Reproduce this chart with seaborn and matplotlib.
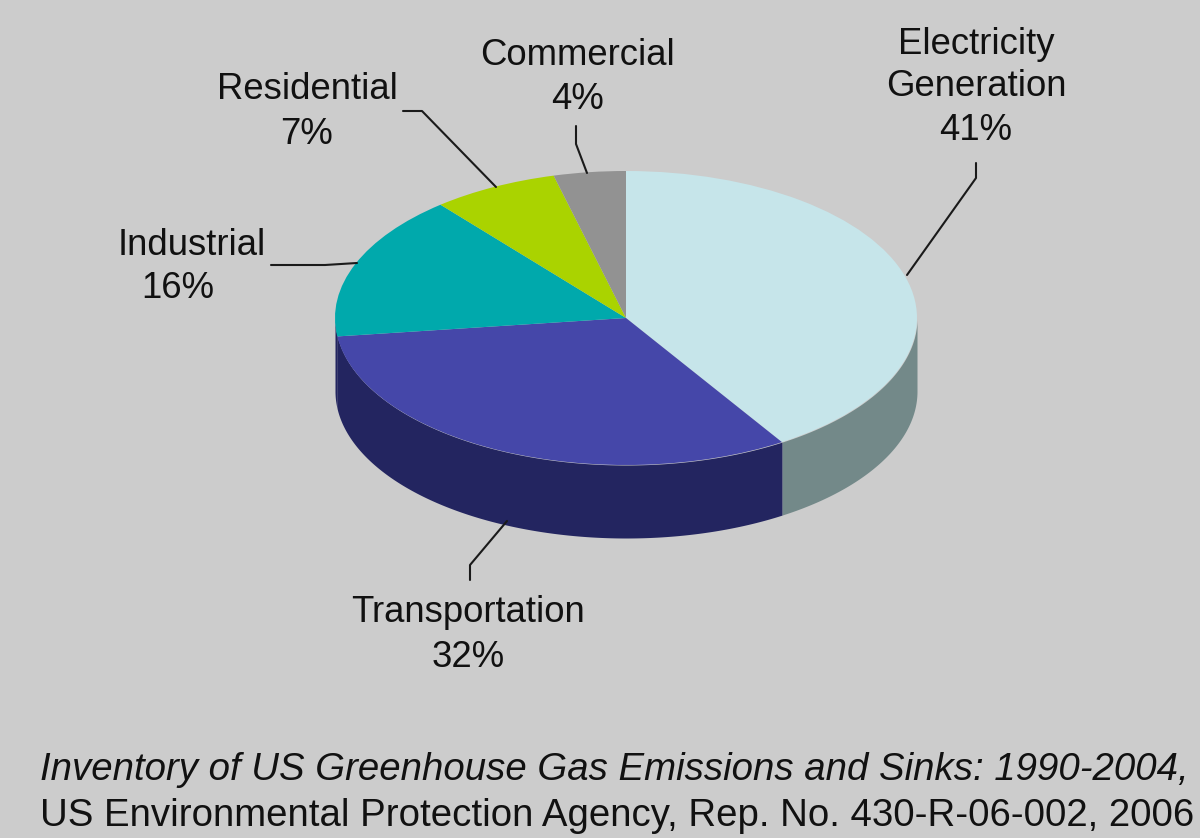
import numpy as np
import matplotlib
matplotlib.use("Agg")
import matplotlib.pyplot as plt
from matplotlib.transforms import Affine2D
import seaborn as sns

# ---- data ----
sectors = ["Electricity\nGeneration", "Transportation", "Industrial", "Residential", "Commercial"]
shares = [41, 32, 16, 7, 4]
top_colors = ["#C6E5EA", "#4547A9", "#00A9AC", "#AAD300", "#929292"]
side_colors = ["#738989", "#232560", "#232560", "#668000", "#585858"]
footer_title = "Inventory of US Greenhouse Gas Emissions and Sinks: 1990-2004,"
footer_source = "US Environmental Protection Agency, Rep. No. 430-R-06-002, 2006"

W, H = 1200, 838
BG = "#CCCCCC"
sns.set_theme(style="white", rc={"figure.facecolor": BG, "axes.facecolor": BG})
plt.rcParams["font.family"] = ["Liberation Sans", "DejaVu Sans"]

fig = plt.figure(figsize=(W / 100, H / 100), dpi=100)
ax = fig.add_axes([0, 0, 1, 1])

cx, cy, rx, ry, depth = 626, H - 318, 291, 147, 73

wedges, _ = ax.pie(shares, colors=sns.color_palette(top_colors), startangle=90,
                   counterclock=False, radius=1, center=(0, 0))
ellipse = Affine2D().scale(rx, ry).translate(cx, cy) + ax.transData
for w in wedges:
    w.set_transform(ellipse)
    w.set_linewidth(0)
    w.set_zorder(3)

# side wall, derived from the same shares
edges = 90 - 360 * np.cumsum([0] + shares) / sum(shares)
for a0, a1, col in zip(edges[:-1], edges[1:], side_colors):
    t = np.radians(np.linspace(a0, a1, 300))
    t = t[np.sin(t) <= 0.0]
    if t.size < 2:
        continue
    x = cx + rx * np.cos(t)
    y = cy + ry * np.sin(t)
    ax.fill_between(x, y - depth, y, color=col, lw=0, zorder=2)

ax.set_aspect("auto")
ax.set_xlim(0, W)
ax.set_ylim(0, H)
ax.axis("off")
fig.patch.set_facecolor(BG)

# leader lines
def leader(xs, ys):
    ax.plot(xs, [H - v for v in ys], color="#1a1a1a", lw=1.5, zorder=4, solid_capstyle="round")

leader([976, 976, 907], [163, 178, 275])
leader([470, 470, 507], [580, 565, 521])
leader([271, 325, 357], [265, 265, 263])
leader([403, 422, 496], [111, 111, 187])
leader([576, 576, 587], [126, 144, 173])

FS = 26.3
def label(x, y, s):
    ax.text(x, H - y, s, ha="center", va="baseline", fontsize=FS, color="#111111", zorder=5)

label(976, 54, "Electricity")
label(976, 96, "Generation")
label(976, 140, "41%")
label(468, 622, "Transportation")
label(468, 667, "32%")
label(192, 255, "Industrial")
label(178, 298, "16%")
label(307, 99, "Residential")
label(306, 144, "7%")
label(577, 65, "Commercial")
label(577, 109, "4%")

ax.text(40, H - 780, footer_title, fontsize=27.6, style="italic", color="#111111",
        ha="left", va="baseline", zorder=5)
ax.text(40, H - 826, footer_source, fontsize=27.6, color="#111111",
        ha="left", va="baseline", zorder=5)

fig.savefig("out.png", dpi=100, facecolor=BG)
